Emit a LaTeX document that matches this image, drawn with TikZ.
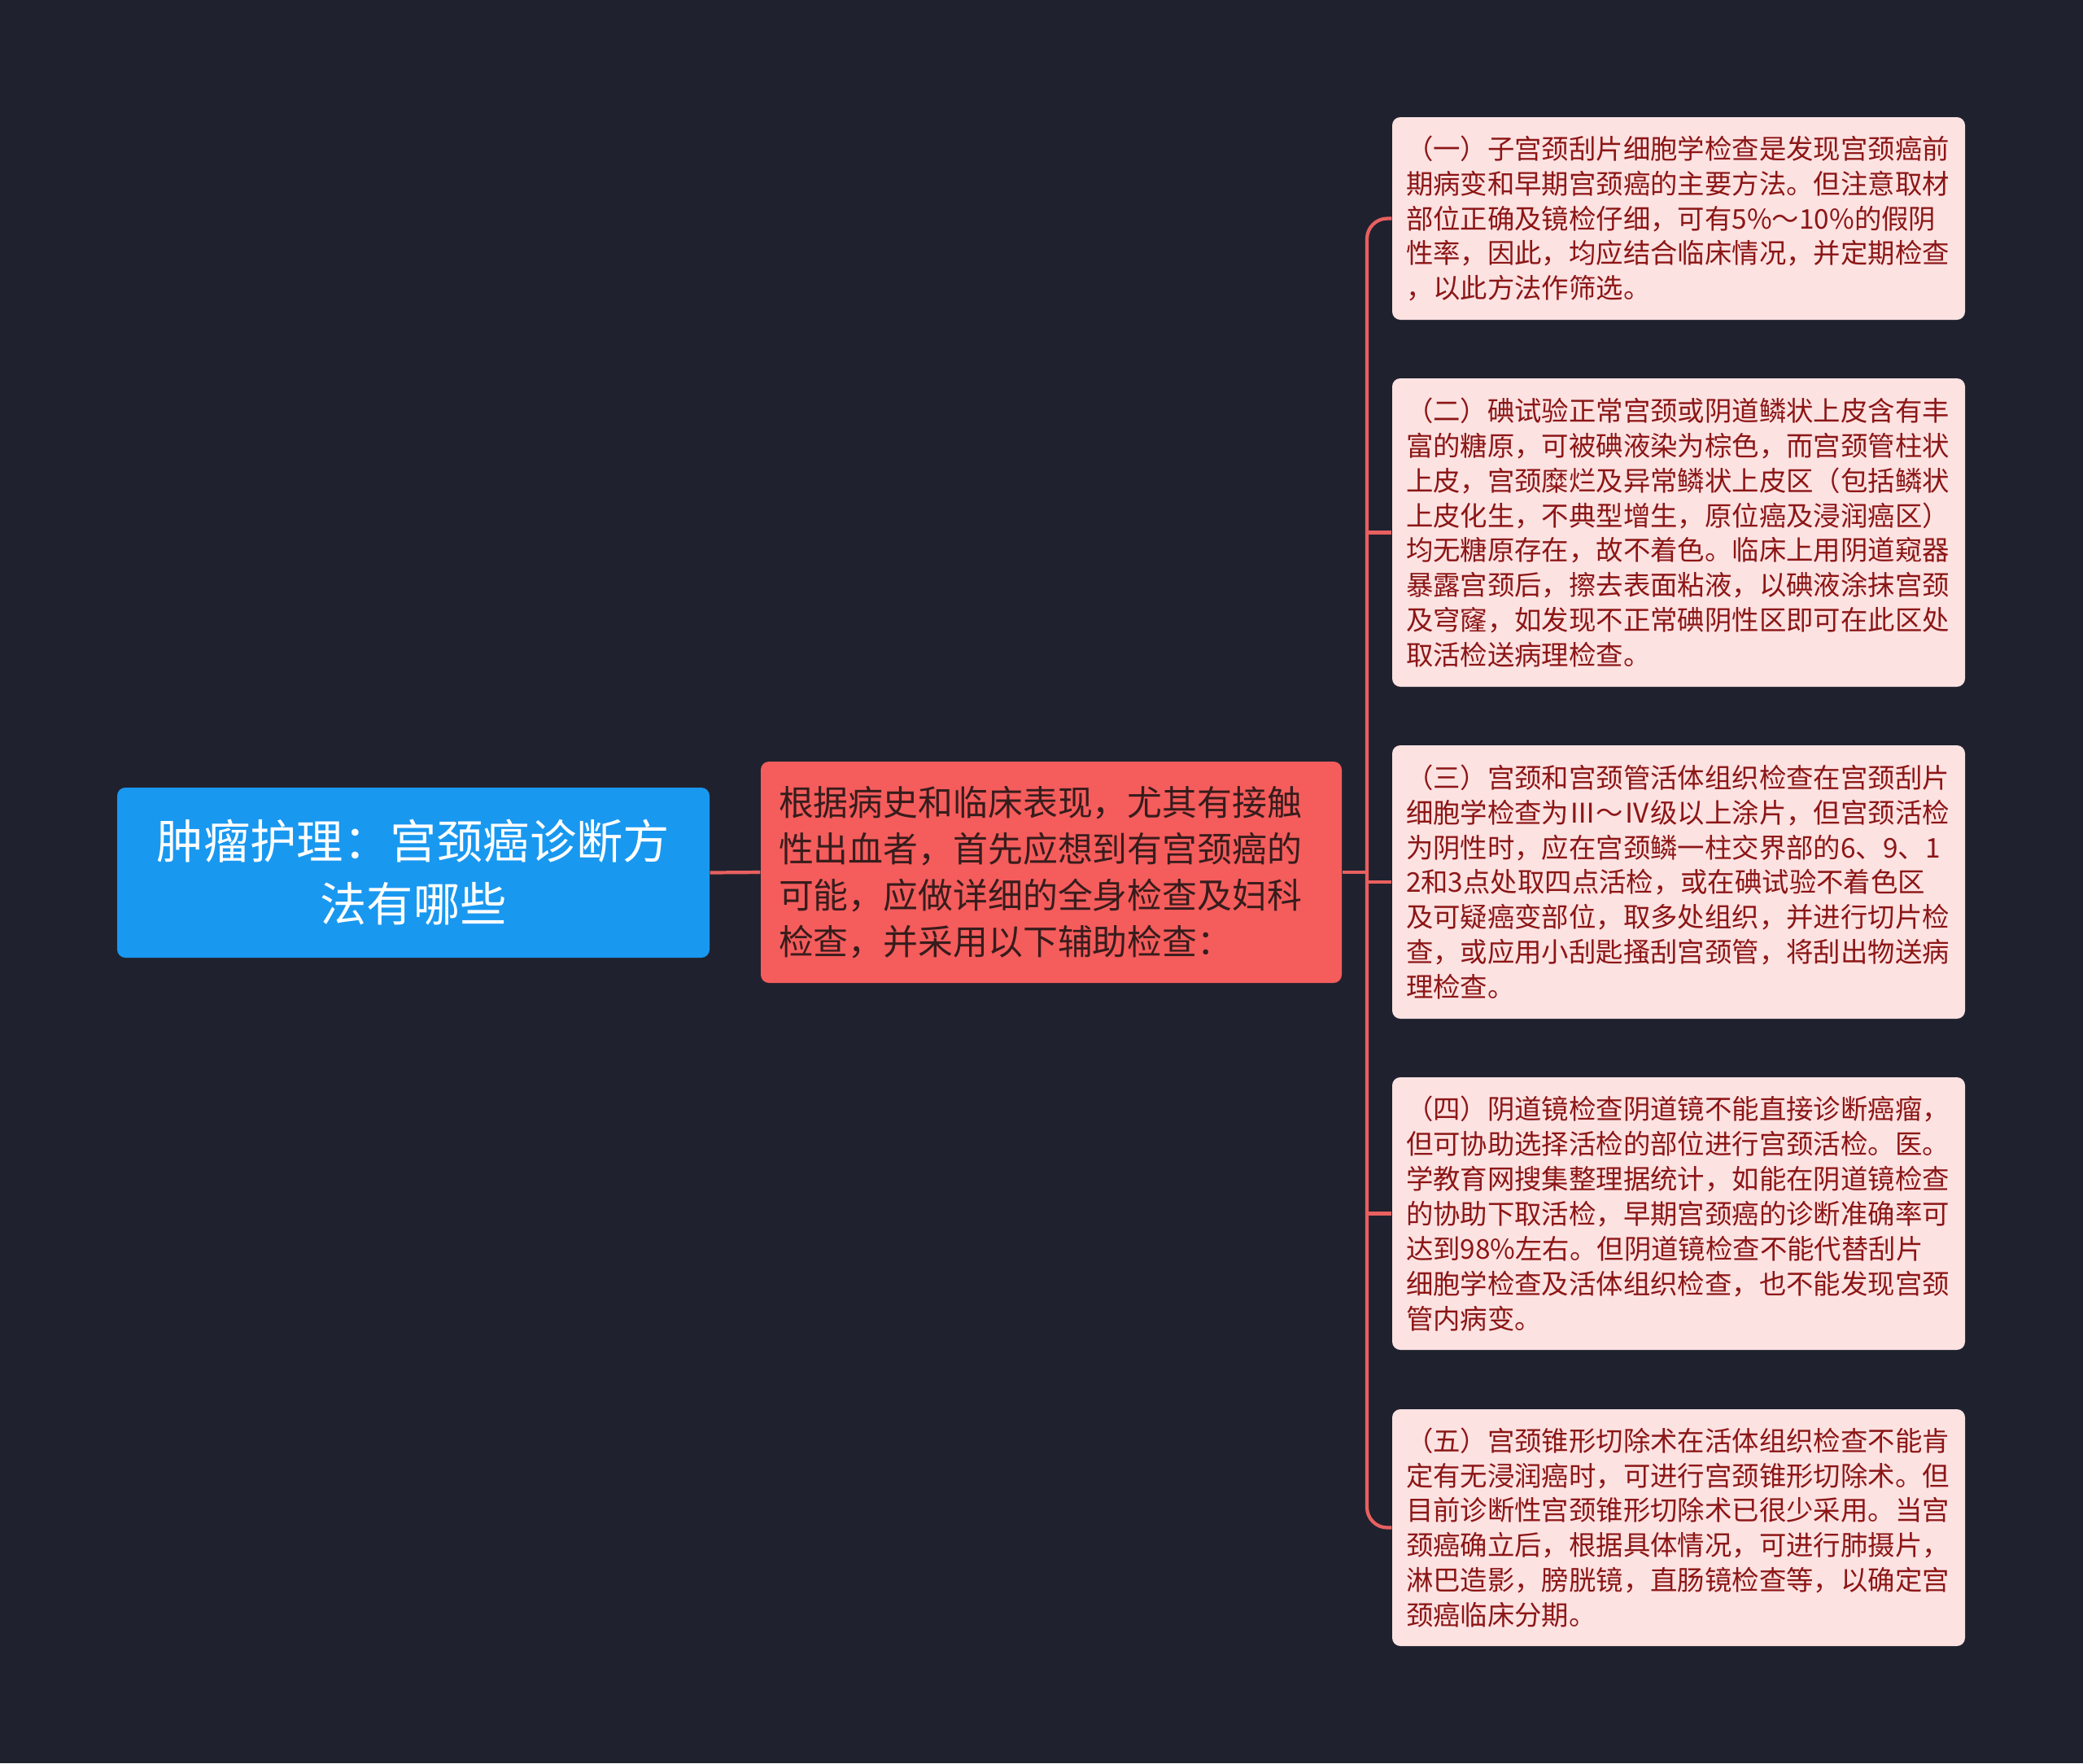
\documentclass[tikz,border=0pt]{standalone}
\usepackage{fontspec}
\setmainfont{Noto Sans CJK SC}
\usepackage{xcolor}
\usepackage{tikz}
\usetikzlibrary{positioning, calc}
\definecolor{bgdark}{RGB}{31, 34, 46}
\definecolor{rootblue}{RGB}{25, 152, 240}
\definecolor{midred}{RGB}{245, 92, 92}
\definecolor{midtext}{RGB}{55, 28, 28}
\definecolor{leafpink}{RGB}{253, 226, 226}
\definecolor{leaftext}{RGB}{140, 22, 22}
\definecolor{linkred}{RGB}{232, 96, 96}

\tikzset{
    rootbox/.style={fill=rootblue, rounded corners=0.1cm, text=white, align=center,
        minimum width=7.28cm, minimum height=2.09cm, inner sep=0pt,
        font=\fontsize{16.3pt}{21.9pt}\selectfont},
    midbox/.style={fill=midred, rounded corners=0.1cm, text=midtext, align=left,
        text width=6.7cm, minimum width=7.14cm, minimum height=2.72cm, inner xsep=0.22cm,
        font=\fontsize{12.2pt}{16.2pt}\selectfont},
    leafbox/.style={fill=leafpink, rounded corners=0.1cm, text=leaftext, align=left,
        text width=6.7cm, minimum width=7.04cm, inner xsep=0.17cm,
        font=\fontsize{9.5pt}{12.2pt}\selectfont},
    link/.style={linkred, line width=1.2pt}
}

\begin{document}
\begin{tikzpicture}
    % Background
    \fill[bgdark] (0,0) rectangle (25.6,-21.67);
    \useasboundingbox (0,0) rectangle (25.6,-21.67);

    % Root and middle
    \node[rootbox] (root) at (5.08,-10.725) {肿瘤护理：宫颈癌诊断方\\法有哪些};
    \node[midbox] (mid) at (12.92,-10.72) {根据病史和临床表现，尤其有接触\\性出血者，首先应想到有宫颈癌的\\可能，应做详细的全身检查及妇科\\检查，并采用以下辅助检查：};

    % Leaves
    \node[leafbox, minimum height=2.49cm] (leaf1) at (20.63,-2.685) {（一）子宫颈刮片细胞学检查是发现宫颈癌前\\期病变和早期宫颈癌的主要方法。但注意取材\\部位正确及镜检仔细，可有5\%～10\%的假阴\\性率，因此，均应结合临床情况，并定期检查\\，以此方法作筛选。};
    \node[leafbox, minimum height=3.79cm] (leaf2) at (20.63,-6.545) {（二）碘试验正常宫颈或阴道鳞状上皮含有丰\\富的糖原，可被碘液染为棕色，而宫颈管柱状\\上皮，宫颈糜烂及异常鳞状上皮区（包括鳞状\\上皮化生，不典型增生，原位癌及浸润癌区）\\均无糖原存在，故不着色。临床上用阴道窥器\\暴露宫颈后，擦去表面粘液，以碘液涂抹宫颈\\及穹窿，如发现不正常碘阴性区即可在此区处\\取活检送病理检查。};
    \node[leafbox, minimum height=3.36cm] (leaf3) at (20.63,-10.84) {（三）宫颈和宫颈管活体组织检查在宫颈刮片\\细胞学检查为Ⅲ～Ⅳ级以上涂片，但宫颈活检\\为阴性时，应在宫颈鳞一柱交界部的6、9、1\\2和3点处取四点活检，或在碘试验不着色区\\及可疑癌变部位，取多处组织，并进行切片检\\查，或应用小刮匙搔刮宫颈管，将刮出物送病\\理检查。};
    \node[leafbox, minimum height=3.35cm] (leaf4) at (20.63,-14.915) {（四）阴道镜检查阴道镜不能直接诊断癌瘤，\\但可协助选择活检的部位进行宫颈活检。医。\\学教育网搜集整理据统计，如能在阴道镜检查\\的协助下取活检，早期宫颈癌的诊断准确率可\\达到98\%左右。但阴道镜检查不能代替刮片\\细胞学检查及活体组织检查，也不能发现宫颈\\管内病变。};
    \node[leafbox, minimum height=2.91cm] (leaf5) at (20.63,-18.775) {（五）宫颈锥形切除术在活体组织检查不能肯\\定有无浸润癌时，可进行宫颈锥形切除术。但\\目前诊断性宫颈锥形切除术已很少采用。当宫\\颈癌确立后，根据具体情况，可进行肺摄片，\\淋巴造影，膀胱镜，直肠镜检查等，以确定宫\\颈癌临床分期。};

    % Connectors
    \coordinate (trunk) at (16.8,-10.72);
    \draw[link] (root.east) -- (mid.west);
    \draw[link] (mid.east) -- (trunk);
    \draw[link, rounded corners=0.25cm] (leaf1.west) -- (trunk |- leaf1.west) -- (trunk |- leaf5.west) -- (leaf5.west);
    \foreach \i in {2,3,4}
        \draw[link] (trunk |- leaf\i.west) -- (leaf\i.west);
\end{tikzpicture}
\end{document}
